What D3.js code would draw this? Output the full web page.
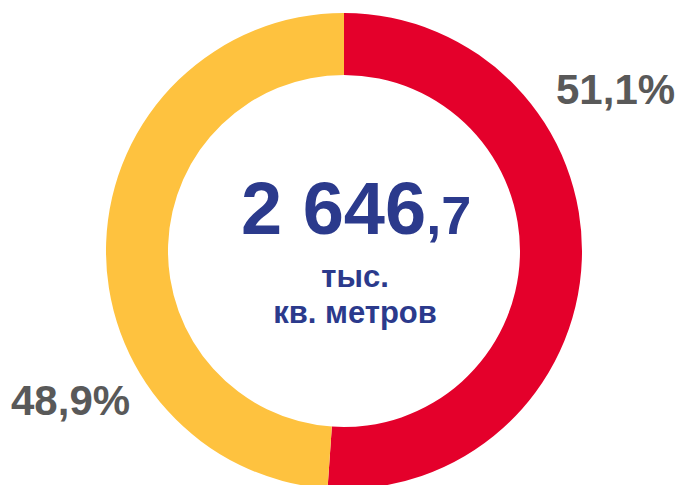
<!DOCTYPE html>
<html>
<head>
<meta charset="utf-8">
<script src="https://cdn.jsdelivr.net/npm/d3@7"></script>
<style>
  body { margin: 0; background: #fff; }
  svg { display: block; font-family: "Liberation Sans", Arial, sans-serif; font-weight: bold; }
</style>
</head>
<body>
<div id="chart"></div>
<script>
const width = 684;
const height = 485;

const segments = ["Красный", "Жёлтый"];
const shares = [51.1, 48.9];
const shareLabels = ["51,1%", "48,9%"];
const colors = ["#e4002b", "#fec23f"];
const totalMain = "2 646";
const totalDecimal = ",7";
const unitLines = ["тыс.", "кв. метров"];

const cx = 344, cy = 251;
const outerR = 238, innerR = 176;

const svg = d3.select("#chart")
  .append("svg")
  .attr("width", width)
  .attr("height", height);

const pie = d3.pie().sort(null).value(d => d);
const arc = d3.arc().innerRadius(innerR).outerRadius(outerR);

const g = svg.append("g").attr("transform", `translate(${cx},${cy})`);

g.selectAll("path")
  .data(pie(shares))
  .enter()
  .append("path")
  .attr("d", arc)
  .attr("fill", (d, i) => colors[i]);

// percent labels sit outside the ring
const labelPos = [[556, 104], [11, 415]];
svg.selectAll(".pct")
  .data(shareLabels)
  .enter()
  .append("text")
  .attr("class", "pct")
  .attr("x", (d, i) => labelPos[i][0])
  .attr("y", (d, i) => labelPos[i][1])
  .attr("fill", "#595959")
  .attr("font-size", 42)
  .text(d => d);

const total = svg.append("text")
  .attr("x", 241)
  .attr("y", 234)
  .attr("fill", "#2b3a8c");
total.append("tspan").attr("font-size", 74).text(totalMain);
total.append("tspan").attr("font-size", 54).text(totalDecimal);

svg.selectAll(".unit")
  .data(unitLines)
  .enter()
  .append("text")
  .attr("class", "unit")
  .attr("x", 355)
  .attr("y", (d, i) => 287 + i * 36)
  .attr("text-anchor", "middle")
  .attr("fill", "#2b3a8c")
  .attr("font-size", 31)
  .text(d => d);
</script>
</body>
</html>
